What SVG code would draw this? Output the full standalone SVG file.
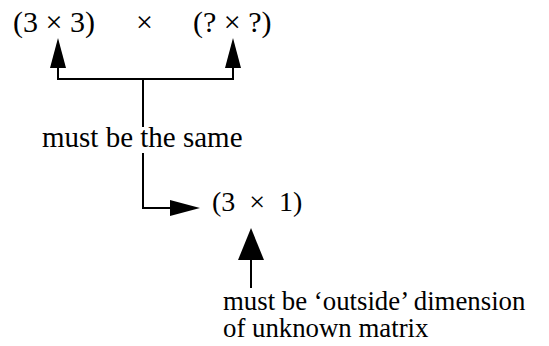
<svg xmlns="http://www.w3.org/2000/svg" width="549" height="346" viewBox="0 0 549 346">
<style>
text{font-family:"Liberation Serif","Times New Roman",serif;font-size:28px;fill:#000}
.top{font-size:30px}
.note{font-size:26.8px}
.ln{stroke:#000;stroke-width:2;fill:none}
</style>
<rect width="549" height="346" fill="#fff"/>
<g id="left-matrix"><text class="top" x="13" y="32">(3 × 3)</text></g>
<g id="times"><text class="top" x="136" y="32">×</text></g>
<g id="right-matrix"><text class="top" x="193" y="32">(? × ?)</text></g>
<g id="same-label"><text x="42" y="147" style="font-size:29px">must be the same</text></g>
<g id="result"><text x="212" y="211" xml:space="preserve">(3  ×  1)</text></g>
<g id="outside-label"><text class="note" x="223" y="310">must be ‘outside’ dimension</text><text class="note" x="223" y="337">of unknown matrix</text></g>
<g id="connectors">
<path class="ln" d="M58,68 L58,79 L233,79 L233,68"/>
<path d="M58,38 L50,68 L66,68 Z"/>
<path d="M233,38 L225,68 L241,68 Z"/>
<path class="ln" d="M143,79 L143,127"/>
<path class="ln" d="M143,153 L143,208 L172,208"/>
<path d="M200,208 L170,200 L170,216 Z"/>
<path class="ln" d="M251,258 L251,288"/>
<path d="M251,228 L238,260 L264,260 Z"/>
</g>
</svg>
